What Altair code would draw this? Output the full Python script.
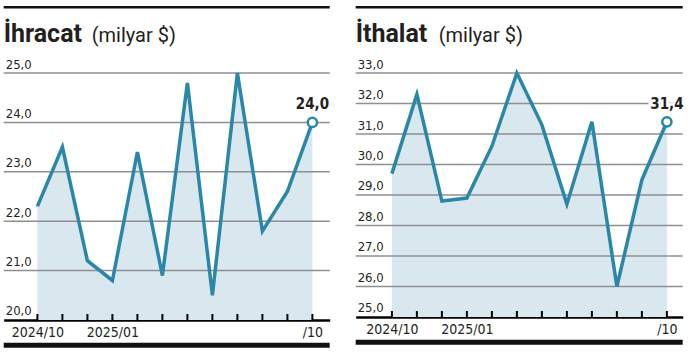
import altair as alt
import pandas as pd

# ---- data ----
month_idx = list(range(12))
export_values = [22.3, 23.5, 21.2, 20.8, 23.4, 20.9, 24.8, 20.5, 25.0, 21.8, 22.6, 24.0]
import_values = [29.7, 32.3, 28.8, 28.9, 30.6, 33.0, 31.3, 28.7, 31.4, 26.0, 29.5, 31.4]
x_tick_idx = [0, 3, 11]
x_tick_labels = ["2024/10", "2025/01", "/10"]
export_grid = [20, 21, 22, 23, 24, 25]
import_grid = [25, 26, 27, 28, 29, 30, 31, 32, 33]

TEAL = "#2a87a8"
FILL = "#d9e7ef"
GRID = "#8f8f8f"
INK = "#231f20"
NARROW = "Liberation Sans Narrow, DejaVu Sans Condensed, sans-serif"
TITLEF = "Roboto, sans-serif"

label_expr = " : ".join(
    [f"datum.value == {i} ? '{l}'" for i, l in zip(x_tick_idx, x_tick_labels)]
) + " : ''"


def panel(title_bold, title_reg, reg_x, values, grid_vals, x_first, width, height):
    y_min, y_max = grid_vals[0], grid_vals[-1]
    step = 25.0
    df = pd.DataFrame({"i": month_idx, "v": values})
    gdf = pd.DataFrame({"v": grid_vals,
                        "lab": [f"{g:.1f}".replace(".", ",") for g in grid_vals]})
    xscale = alt.Scale(domain=[-x_first / step, (width - x_first) / step], nice=False, zero=False)
    yscale = alt.Scale(domain=[y_min, y_max], nice=False, zero=False)
    X = alt.X("i:Q", scale=xscale,
              axis=alt.Axis(values=x_tick_idx, labelExpr=label_expr, domainColor="#000",
                            domainWidth=2.5, ticks=False, grid=False, labelFont=NARROW,
                            labelFontSize=14, labelColor=INK, labelPadding=6, title=None,
                            labelFlush=False))
    Y = alt.Y("v:Q", scale=yscale, axis=None)

    base = alt.Chart(df)
    one = pd.DataFrame({"k": [0]})

    top_bar = alt.Chart(one).mark_rule(color="#111", strokeWidth=2.5).encode(
        x=alt.value(0), x2=alt.value(width), y=alt.value(-65.7))
    bottom_bar = alt.Chart(one).mark_rule(color="#111", strokeWidth=5).encode(
        x=alt.value(0), x2=alt.value(width), y=alt.value(height + 25.3))
    area = base.mark_area(color=FILL, opacity=1).encode(x=X, y=Y, y2=alt.datum(y_min))
    grid = alt.Chart(gdf).transform_filter(alt.datum.v > y_min).mark_rule(
        color=GRID, strokeWidth=1.5).encode(y=Y, x=alt.value(0), x2=alt.value(width))
    ylabels = alt.Chart(gdf).mark_text(align="left", baseline="alphabetic", dy=-4.5,
                                       font=NARROW, fontSize=13, color=INK).encode(
        y=Y, x=alt.value(2), text="lab:N")
    ticks = base.mark_rule(color="#000", strokeWidth=2).encode(
        x=X, y=alt.value(height - 6), y2=alt.value(height))
    line = base.mark_line(color=TEAL, strokeWidth=3.5, strokeJoin="miter").encode(x=X, y=Y)
    last = base.transform_filter(alt.datum.i == month_idx[-1]).transform_calculate(
        lab="replace(format(datum.v, '.1f'), '.', ',')")
    point = last.mark_point(shape="circle", filled=True, fill="white", stroke=TEAL,
                            strokeWidth=2.5, size=85, opacity=1).encode(x=X, y=Y)
    halo = last.mark_text(dy=-13, baseline="alphabetic", font=NARROW, fontSize=15,
                          fontWeight="bold", color="white", stroke="white",
                          strokeWidth=5).encode(x=X, y=Y, text="lab:N")
    endlab = last.mark_text(dy=-13, baseline="alphabetic", font=NARROW, fontSize=15,
                            fontWeight="bold", color=INK).encode(x=X, y=Y, text="lab:N")
    t1 = alt.Chart(pd.DataFrame({"t": [title_bold]})).mark_text(
        align="left", baseline="alphabetic", font=TITLEF, fontSize=25, fontWeight="bold",
        color=INK).encode(x=alt.value(0), y=alt.value(-30.8), text="t:N")
    t2 = alt.Chart(pd.DataFrame({"t": [title_reg]})).mark_text(
        align="left", baseline="alphabetic", font=TITLEF, fontSize=20, fontWeight="normal",
        color=INK).encode(x=alt.value(reg_x), y=alt.value(-30.8), text="t:N")

    return alt.layer(top_bar, bottom_bar, area, grid, ticks, line, point, halo, endlab,
                     ylabels, t1, t2).properties(width=width, height=height)


left = panel("İhracat", "(milyar $)", 88, export_values, export_grid, 33.7, 326, 247)
right = panel("İthalat", "(milyar $)", 83, import_values, import_grid, 36.2, 327, 244)

chart = alt.hconcat(left, right, spacing=26, bounds="flush").properties(
    padding={"left": 0.7, "top": 6, "right": 0, "bottom": 0}
).configure_view(stroke=None)

chart.save("out.html", embed_options={"renderer": "svg", "actions": False})
